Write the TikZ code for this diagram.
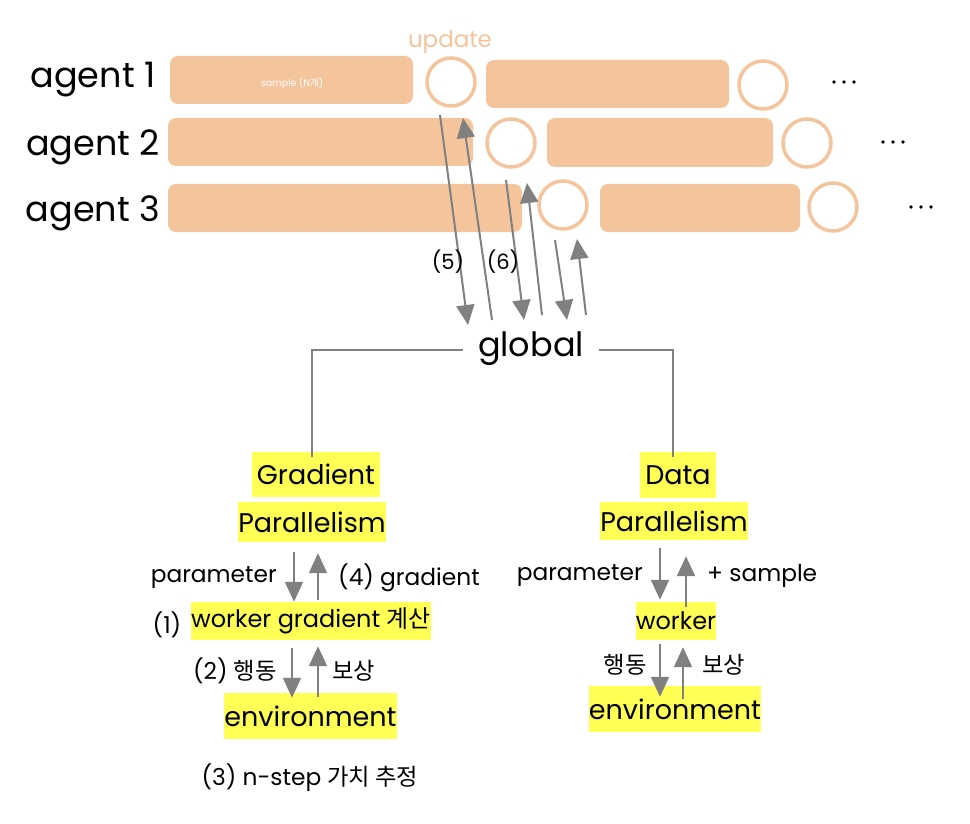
\documentclass[tikz,border=0pt]{standalone}
\usepackage{fontspec}
\setmainfont{Poppins}
\newfontfamily\kr{Noto Sans CJK KR}
\usetikzlibrary{arrows.meta}
\definecolor{peach}{RGB}{244,196,156}
\definecolor{hl}{RGB}{255,255,85}
\definecolor{arrgray}{RGB}{128,128,128}
\tikzset{
  bar/.style={fill=peach, rounded corners=8pt, inner sep=0pt},
  ring/.style={circle, draw=peach, line width=3.5pt, minimum size=48pt, inner sep=0pt},
  agentlbl/.style={font=\fontsize{35}{40}\selectfont, inner sep=0pt},
  arr/.style={draw=arrgray, line width=2pt, -{Triangle[length=20pt,width=18pt]}, arrgray},
  conn/.style={draw=arrgray, line width=1.5pt},
  hlbox/.style={fill=hl, inner sep=0pt, font=\fontsize{27}{32}\selectfont},
  hlsmall/.style={fill=hl, inner sep=0pt, font=\fontsize{24}{29}\selectfont},
  small/.style={inner sep=0pt, font=\fontsize{23.3}{28}\selectfont},
  numlbl/.style={inner sep=0pt, font=\fontsize{21}{25}\selectfont},
}
\begin{document}
\begin{tikzpicture}[x=1pt,y=-1pt]
\useasboundingbox (0,0) rectangle (970,824);
% agent labels
\node[agentlbl] (ag1) at (93,80) {agent 1};
\node[agentlbl] (ag2) at (93,147) {agent 2};
\node[agentlbl] (ag3) at (93,213) {agent 3};
% bars
\node[bar, minimum width=243pt, minimum height=48pt] (r11) at (291.5,80) {};
\node[font=\fontsize{9.5}{11}\selectfont, text=white, inner sep=0pt] (smp) at (292,83) {sample (N{\kr 개})};
\node[bar, minimum width=243pt, minimum height=48pt] (r12) at (607.5,84) {};
\node[bar, minimum width=305pt, minimum height=48pt] (r21) at (320.5,142) {};
\node[bar, minimum width=226pt, minimum height=49pt] (r22) at (660,142.5) {};
\node[bar, minimum width=354pt, minimum height=48pt] (r31) at (345,208) {};
\node[bar, minimum width=200pt, minimum height=48pt] (r32) at (700,208) {};
% rings
\node[ring] (c11) at (451,82) {};
\node[ring] (c12) at (763,85) {};
\node[ring] (c21) at (511,143) {};
\node[ring] (c22) at (807,143) {};
\node[ring] (c31) at (563,205) {};
\node[ring] (c32) at (833,207) {};
\node[text=peach, inner sep=0pt, font=\fontsize{23}{27}\selectfont] (upd) at (450,42) {update};
% dots
\foreach \x/\y in {834/82, 844/82, 854/82, 883/142, 893/142, 903/142, 911/207, 921/207, 931/207}
  \fill (\x,\y) circle (1.8pt);
% global
\node[inner xsep=15pt, inner ysep=0pt, font=\fontsize{33.5}{38}\selectfont] (global) at (531,349) {global};
% arrow endpoints
\coordinate (a1s) at (440,115); \coordinate (a1e) at (468,325);
\coordinate (a2s) at (492,320); \coordinate (a2e) at (463,118);
\coordinate (a3s) at (506,180); \coordinate (a3e) at (524,320);
\coordinate (a4s) at (542,315); \coordinate (a4e) at (527,183);
\coordinate (a5s) at (555,240); \coordinate (a5e) at (567,320);
\coordinate (a6s) at (586,315); \coordinate (a6e) at (577,239);
\draw[arr] (a1s) -- (a1e);
\draw[arr] (a2s) -- (a2e);
\draw[arr] (a3s) -- (a3e);
\draw[arr] (a4s) -- (a4e);
\draw[arr] (a5s) -- (a5e);
\draw[arr] (a6s) -- (a6e);
\node[numlbl] (l5) at (448,262) {(5)};
\node[numlbl] (l6) at (503,262) {(6)};
% left branch
\node[hlbox, minimum width=128pt, minimum height=45pt] (gtop) at (316,474.5) {Gradient};
\node[hlbox, minimum width=148pt, minimum height=40pt] (gpar) at (312,522) {Parallelism};
\node[hlsmall, minimum width=238pt, minimum height=38pt] (gwork) at (311,621) {worker gradient {\kr 계산}};
\node[hlbox, minimum width=171pt, minimum height=46pt] (genv) at (310.5,716) {environment};
\node[small, anchor=east] (gparam) at (277,578) {parameter};
\node[small, anchor=west] (ggrad) at (338,578) {(4) gradient};
\node[small] (g1) at (167,625) {(1)};
\node[small, anchor=east] (gact) at (277,671) {(2) {\kr 행동}};
\node[small, anchor=west] (grew) at (332,671) {{\kr 보상}};
\node[small] (g3) at (310,778) {(3) n-step {\kr 가치 추정}};
% right branch
\node[hlbox, minimum width=76pt, minimum height=46pt] (dtop) at (678,475) {Data};
\node[hlbox, minimum width=148pt, minimum height=38pt] (dpar) at (674,521) {Parallelism};
\node[hlsmall, minimum width=80pt, minimum height=38pt] (dwork) at (676,621) {worker};
\node[hlbox, minimum width=170pt, minimum height=46pt] (denv) at (675,709) {environment};
\node[small, anchor=east] (dparam) at (643,576) {parameter};
\node[small, anchor=west] (dsamp) at (707,576) {+ sample};
\node[small, anchor=east] (dact) at (647,665) {{\kr 행동}};
\node[small, anchor=west] (drew) at (702,665) {{\kr 보상}};
% connectors from global
\draw[conn] ([yshift=-1pt]global.west) -| ([xshift=-4pt,yshift=-5pt]gtop.north);
\draw[conn] ([yshift=-1pt]global.east) -| ([xshift=-5pt,yshift=-5pt]dtop.north);
% vertical arrows left
\coordinate (xa) at (294,0); \coordinate (xb) at (318,0);
\coordinate (xc) at (292,0); \coordinate (xd) at (318,0);
\draw[arr, shorten <=10pt] (gpar.south -| xa) -- (gwork.north -| xa);
\draw[arr, shorten <=2pt, shorten >=11pt] (gwork.north -| xb) -- (gpar.south -| xb);
\draw[arr, shorten <=8pt, shorten >=-5pt] (gwork.south -| xc) -- (genv.north -| xc);
\draw[arr, shorten <=-4pt, shorten >=6pt] (genv.north -| xd) -- (gwork.south -| xd);
% vertical arrows right
\coordinate (xe) at (660,0); \coordinate (xf) at (686,0);
\coordinate (xg) at (660,0); \coordinate (xh) at (683,0);
\draw[arr, shorten <=8pt, shorten >=2pt] (dpar.south -| xe) -- (dwork.north -| xe);
\draw[arr, shorten <=-5pt, shorten >=16pt] (dwork.north -| xf) -- (dpar.south -| xf);
\draw[arr, shorten <=4pt, shorten >=-11pt] (dwork.south -| xg) -- (denv.north -| xg);
\draw[arr, shorten <=-13pt, shorten >=7pt] (denv.north -| xh) -- (dwork.south -| xh);
\end{tikzpicture}
\end{document}
